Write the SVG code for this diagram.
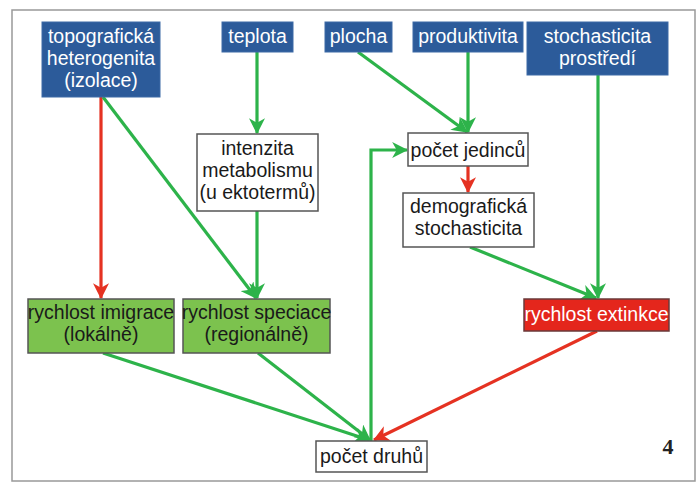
<svg xmlns="http://www.w3.org/2000/svg" width="699" height="484" viewBox="0 0 699 484">
<defs>
<marker id="ag" viewBox="0 0 14 14" refX="13" refY="7" markerWidth="16" markerHeight="16" markerUnits="userSpaceOnUse" orient="auto"><path d="M0,0 L14,7 L0,14 L4,7 Z" fill="#2db34a"/></marker>
<marker id="ar" viewBox="0 0 14 14" refX="13" refY="7" markerWidth="16" markerHeight="16" markerUnits="userSpaceOnUse" orient="auto"><path d="M0,0 L14,7 L0,14 L4,7 Z" fill="#e53222"/></marker>
</defs>
<style>
text{font-family:"Liberation Sans",Arial,sans-serif;font-size:19.5px;text-anchor:middle}
.blue rect{fill:#2c5b9a;stroke:#3d6aa6;stroke-width:1}
.blue text{fill:#fff}
.white rect{fill:#fff;stroke:#555;stroke-width:1.5}
.white text{fill:#1a1a1a}
.green rect{fill:#7cc24e;stroke:#555;stroke-width:1.5}
.green text{fill:#1a1a1a}
.red rect{fill:#e4261c;stroke:#6a3a3a;stroke-width:1.5}
.red text{fill:#fff}
.g{stroke:#2db34a;stroke-width:3.2;fill:none;marker-end:url(#ag)}
.r{stroke:#e53222;stroke-width:3.2;fill:none;marker-end:url(#ar)}
</style>
<rect x="12" y="10" width="683" height="471" fill="#fff" stroke="#999" stroke-width="1.5"/>
<g id="connectors">
<path class="r" d="M101,97 L101,298"/>
<path class="g" d="M103,97 L256,298"/>
<path class="g" d="M257,52 L257,133"/>
<path class="g" d="M257,211 L257,298"/>
<path class="g" d="M358,52 L467,132"/>
<path class="g" d="M468,52 L468,132"/>
<path class="r" d="M468,166 L468,192"/>
<path class="g" d="M470,247 L596,298"/>
<path class="g" d="M598,75 L598,298"/>
<path class="g" d="M103,353 L369,440"/>
<path class="g" d="M258,353 L370,440"/>
<path class="r" d="M597,331 L374,440"/>
<path class="g" d="M371,441 L371,150 L407,150"/>
</g>
<g id="topograficka" class="blue"><rect x="42" y="22" width="118" height="75"/><text x="101" y="43">topografická</text><text x="101" y="65">heterogenita</text><text x="101" y="87">(izolace)</text></g>
<g id="teplota" class="blue"><rect x="222" y="22" width="71" height="30"/><text x="257.5" y="43">teplota</text></g>
<g id="plocha" class="blue"><rect x="325" y="22" width="67" height="30"/><text x="358.5" y="43">plocha</text></g>
<g id="produktivita" class="blue"><rect x="413" y="22" width="110" height="30"/><text x="468" y="43">produktivita</text></g>
<g id="stochasticita-prostredi" class="blue"><rect x="527" y="22" width="141" height="53"/><text x="597.5" y="43">stochasticita</text><text x="597.5" y="65">prostředí</text></g>
<g id="intenzita" class="white"><rect x="197" y="134" width="121" height="77"/><text x="257.5" y="155">intenzita</text><text x="257.5" y="177">metabolismu</text><text x="257.5" y="199">(u ektotermů)</text></g>
<g id="pocet-jedincu" class="white"><rect x="408" y="133" width="120" height="33"/><text x="468" y="157">počet jedinců</text></g>
<g id="demograficka" class="white"><rect x="403" y="193" width="131" height="54"/><text x="468.5" y="213">demografická</text><text x="468.5" y="235">stochasticita</text></g>
<g id="imigrace" class="green"><rect x="28" y="299" width="146" height="54"/><text x="101" y="319">rychlost imigrace</text><text x="101" y="341">(lokálně)</text></g>
<g id="speciace" class="green"><rect x="183" y="299" width="147" height="54"/><text x="256.5" y="319">rychlost speciace</text><text x="256.5" y="341">(regionálně)</text></g>
<g id="extinkce" class="red"><rect x="524" y="299" width="145" height="32"/><text x="596.5" y="321">rychlost extinkce</text></g>
<g id="pocet-druhu" class="white"><rect x="316" y="441" width="111" height="31"/><text x="371.5" y="463">počet druhů</text></g>
<text x="668" y="454" style="font-family:'Liberation Serif',serif;font-weight:bold;font-size:22px;fill:#222">4</text>
</svg>
